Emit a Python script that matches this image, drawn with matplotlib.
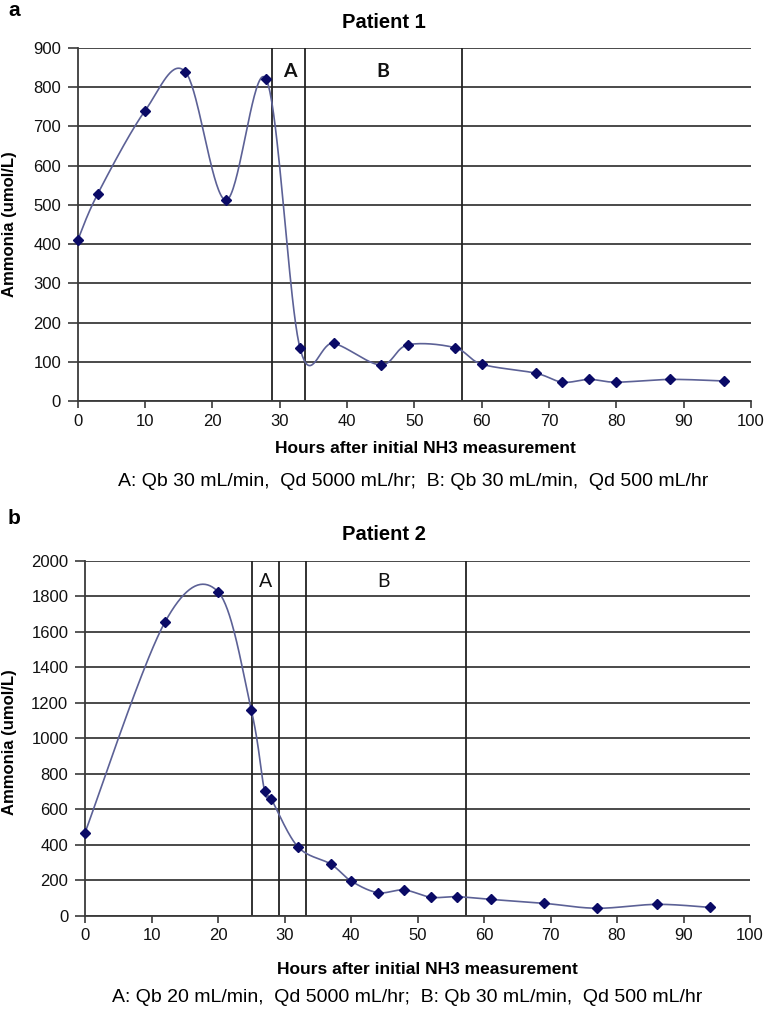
import numpy as np
import matplotlib
matplotlib.use("Agg")
import matplotlib.pyplot as plt
from matplotlib import font_manager

# ---------------- data ----------------
hours_p1 = [0, 3, 10, 16, 22, 28, 33, 38, 45, 49, 56, 60, 68, 72, 76, 80, 88, 96]
ammonia_p1 = [410, 529, 740, 839, 512, 820, 136, 147, 92, 143, 136, 94, 71, 48, 55, 48, 55, 51]
phase_lines_p1 = [28.8, 33.7, 57.1]

hours_p2 = [0, 12, 20, 25, 27, 28, 32, 37, 40, 44, 48, 52, 56, 61, 69, 77, 86, 94]
ammonia_p2 = [468, 1654, 1827, 1160, 703, 658, 389, 290, 196, 130, 145, 104, 107, 92, 70, 42, 64, 47]
phase_lines_p2 = [25.05, 29.1, 33.3, 57.3]

titles = ["Patient 1", "Patient 2"]
panel_letters = ["a", "b"]
xlabel = "Hours after initial NH3 measurement"
ylabel = "Ammonia (umol/L)"
captions = ["A: Qb 30 mL/min,  Qd 5000 mL/hr;  B: Qb 30 mL/min,  Qd 500 mL/hr",
            "A: Qb 20 mL/min,  Qd 5000 mL/hr;  B: Qb 30 mL/min,  Qd 500 mL/hr"]
phase_labels = ["A", "B"]
phase_label_x_p1 = [31.5, 45.3]
phase_label_x_p2 = [27.2, 44.9]
yticks_p1 = list(range(0, 901, 100))
yticks_p2 = list(range(0, 2001, 200))
xticks = list(range(0, 101, 10))

# ---------------- fonts ----------------
avail = {f.name for f in font_manager.fontManager.ttflist}
base_font = "Liberation Sans"
label_font = "Lato" if "Lato" in avail else "DejaVu Sans"
plt.rcParams["font.family"] = ["Liberation Sans", "DejaVu Sans"]

W, H = 765, 1014
fig = plt.figure(figsize=(W / 100, H / 100), dpi=100)
fig.patch.set_facecolor("white")


def px_axes(left, top, right, bottom):
    return fig.add_axes([left / W, 1 - bottom / H, (right - left) / W, (bottom - top) / H])


def smooth(x, y, sx, sy, n=40):
    P = np.column_stack([np.asarray(x, float) * sx, np.asarray(y, float) * sy])
    out = []
    for i in range(len(P) - 1):
        p0 = P[i - 1] if i > 0 else P[i]
        p1 = P[i]
        p2 = P[i + 1]
        p3 = P[i + 2] if i + 2 < len(P) else P[i + 1]
        c1 = p1 + (p2 - p0) / 6.0
        c2 = p2 - (p3 - p1) / 6.0
        t = np.linspace(0, 1, n)[:, None]
        seg = (1 - t) ** 3 * p1 + 3 * (1 - t) ** 2 * t * c1 + 3 * (1 - t) * t ** 2 * c2 + t ** 3 * p2
        out.append(seg if i == 0 else seg[1:])
    out = np.vstack(out)
    return out[:, 0] / sx, out[:, 1] / sy


LINE_C = "#5c6196"
MARK_C = "#0a0a66"
GRID_C = "#3a3a3a"

panels = [
    dict(box=(77.7, 48, 751, 401), x=hours_p1, y=ammonia_p1, lines=phase_lines_p1,
         yt=yticks_p1, ymax=900, lab_x=phase_label_x_p1, lab_y=840, bold=True),
    dict(box=(85, 561, 750, 915.7), x=hours_p2, y=ammonia_p2, lines=phase_lines_p2,
         yt=yticks_p2, ymax=2000, lab_x=phase_label_x_p2, lab_y=1883, bold=False),
]

for k, p in enumerate(panels):
    l, t, r, b = p["box"]
    ax = px_axes(l, t, r, b)
    ax.set_xlim(0, 100)
    ax.set_ylim(0, p["ymax"])
    ax.set_xticks(xticks)
    ax.set_yticks(p["yt"])
    for s in ["top", "right"]:
        ax.spines[s].set_visible(False)
    for s in ["left", "bottom"]:
        ax.spines[s].set_color(GRID_C)
        ax.spines[s].set_linewidth(1.3)
    ax.tick_params(axis="both", direction="out", length=5, width=1.2, color=GRID_C,
                   labelsize=12, labelcolor="#111111")
    ax.tick_params(axis="y", pad=5, length=7)
    ax.tick_params(axis="x", pad=4)
    for lbl in ax.get_xticklabels() + ax.get_yticklabels():
        lbl.set_fontfamily(base_font)
    ax.yaxis.grid(True, color=GRID_C, linewidth=1.3)
    ax.set_axisbelow(True)
    for v in p["lines"]:
        ax.axvline(v, color="#222222", linewidth=1.3, zorder=1.5)
    sx = (r - l) / 100.0
    sy = (b - t) / p["ymax"]
    xs, ys = smooth(p["x"], p["y"], sx, sy)
    ax.plot(xs, ys, color=LINE_C, linewidth=1.2, zorder=3, clip_on=False)
    ax.plot(p["x"], p["y"], linestyle="none", marker="D", markersize=5.5,
            color=MARK_C, zorder=4, clip_on=False)
    for txt, xv in zip(phase_labels, p["lab_x"]):
        ax.text(xv, p["lab_y"], txt, ha="center", va="center", fontsize=14,
                fontweight="bold" if p["bold"] else "normal", family=label_font, color="#111111")

# y labels as figure texts
fig.text(10 / W, 1 - 224.5 / H, ylabel, rotation=90, fontsize=12, fontweight="bold",
         ha="center", va="center")
fig.text(10 / W, 1 - 742 / H, ylabel, rotation=90, fontsize=12, fontweight="bold",
         ha="center", va="center")

# figure-level texts
fig.text(8 / W, 1 - 10 / H, panel_letters[0], fontsize=15, fontweight="bold", ha="left", va="center")
fig.text(8 / W, 1 - 519 / H, panel_letters[1], fontsize=15, fontweight="bold", ha="left", va="center")
fig.text(384 / W, 1 - 22 / H, titles[0], fontsize=14.5, fontweight="bold", ha="center", va="center")
fig.text(384 / W, 1 - 535 / H, titles[1], fontsize=14.5, fontweight="bold", ha="center", va="center")
fig.text(425 / W, 1 - 449 / H, xlabel, fontsize=12.5, fontweight="bold", ha="center", va="center",
         family=base_font)
fig.text(427 / W, 1 - 969 / H, xlabel, fontsize=12.5, fontweight="bold", ha="center", va="center",
         family=base_font)
fig.text(413 / W, 1 - 481 / H, captions[0], fontsize=14, ha="center", va="center", family=base_font)
fig.text(407 / W, 1 - 998 / H, captions[1], fontsize=14, ha="center", va="center", family=base_font)

fig.savefig("out.png", dpi=100, facecolor="white")
